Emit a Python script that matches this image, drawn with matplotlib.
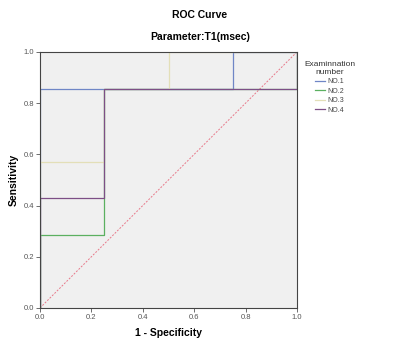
import matplotlib
matplotlib.use("Agg")
import matplotlib.pyplot as plt
from matplotlib.ticker import FormatStrFormatter

plt.rcParams['font.family'] = ['Liberation Sans', 'DejaVu Sans']

# Data (ROC step curves; 1 - specificity vs sensitivity)
no1_fpr = [0.0, 0.0, 0.75, 0.75, 1.0]
no1_tpr = [0.0, 0.857, 0.857, 1.0, 1.0]
no2_fpr = [0.0, 0.0, 0.25, 0.25, 1.0, 1.0]
no2_tpr = [0.0, 0.286, 0.286, 0.857, 0.857, 1.0]
no3_fpr = [0.0, 0.0, 0.25, 0.25, 0.5, 0.5, 1.0]
no3_tpr = [0.0, 0.571, 0.571, 0.857, 0.857, 1.0, 1.0]
no4_fpr = [0.0, 0.0, 0.25, 0.25, 1.0, 1.0]
no4_tpr = [0.0, 0.429, 0.429, 0.857, 0.857, 1.0]
labels = ["NO.1", "NO.2", "NO.3", "NO.4"]
ticks = [0.0, 0.2, 0.4, 0.6, 0.8, 1.0]

colors = ["#6f86c6", "#5bb060", "#e3dfb8", "#7d4f86"]

fig = plt.figure(figsize=(4.0, 3.46), dpi=100)
ax = fig.add_axes([0.1, 0.11, 0.6425, 0.74])
ax.set_facecolor("#f0f0f0")

ax.plot([0, 1], [0, 1], color="#e8798a", lw=0.7, ls=(0, (2, 1.5)), zorder=1)
series = [(no1_fpr, no1_tpr), (no2_fpr, no2_tpr), (no3_fpr, no3_tpr), (no4_fpr, no4_tpr)]
handles = []
for (x, y), c, lab in zip(series, colors, labels):
    h, = ax.plot(x, y, color=c, lw=0.9, label=lab, zorder=2)
    handles.append(h)

ax.set_xlim(0, 1)
ax.set_ylim(0, 1)
ax.set_xticks(ticks)
ax.set_yticks(ticks)
ax.xaxis.set_major_formatter(FormatStrFormatter("%.1f"))
ax.yaxis.set_major_formatter(FormatStrFormatter("%.1f"))
ax.tick_params(labelsize=5.5, colors="#555555", length=3, width=0.6, pad=1.5)
for s in ax.spines.values():
    s.set_color("#444444")
    s.set_linewidth(0.8)
    s.set_zorder(3)

ax.set_xlabel("1 - Specificity", fontsize=7.5, fontweight="bold", labelpad=5)
ax.set_ylabel("Sensitivity", fontsize=7.5, fontweight="bold", labelpad=3)

fig.text(0.5, 0.958, "ROC Curve", ha="center", va="center", fontsize=7.5, fontweight="bold")
fig.text(0.5, 0.893, "Parameter:T1(msec)", ha="center", va="center", fontsize=7.5, fontweight="bold")

leg = fig.legend(handles=handles, labels=labels, title="Examinnation\nnumber",
                 loc="upper left", bbox_to_anchor=(0.748, 0.838), frameon=False,
                 fontsize=5, title_fontsize=6, handlelength=1.5,
                 labelspacing=0.35, borderpad=0.2, handletextpad=0.3)
leg._legend_box.align = "center"
leg.get_title().set_multialignment("center")
leg.get_title().set_color("#333333")
for t in leg.get_texts():
    t.set_color("#444444")

fig.savefig("out.png", dpi=100, facecolor="white")
